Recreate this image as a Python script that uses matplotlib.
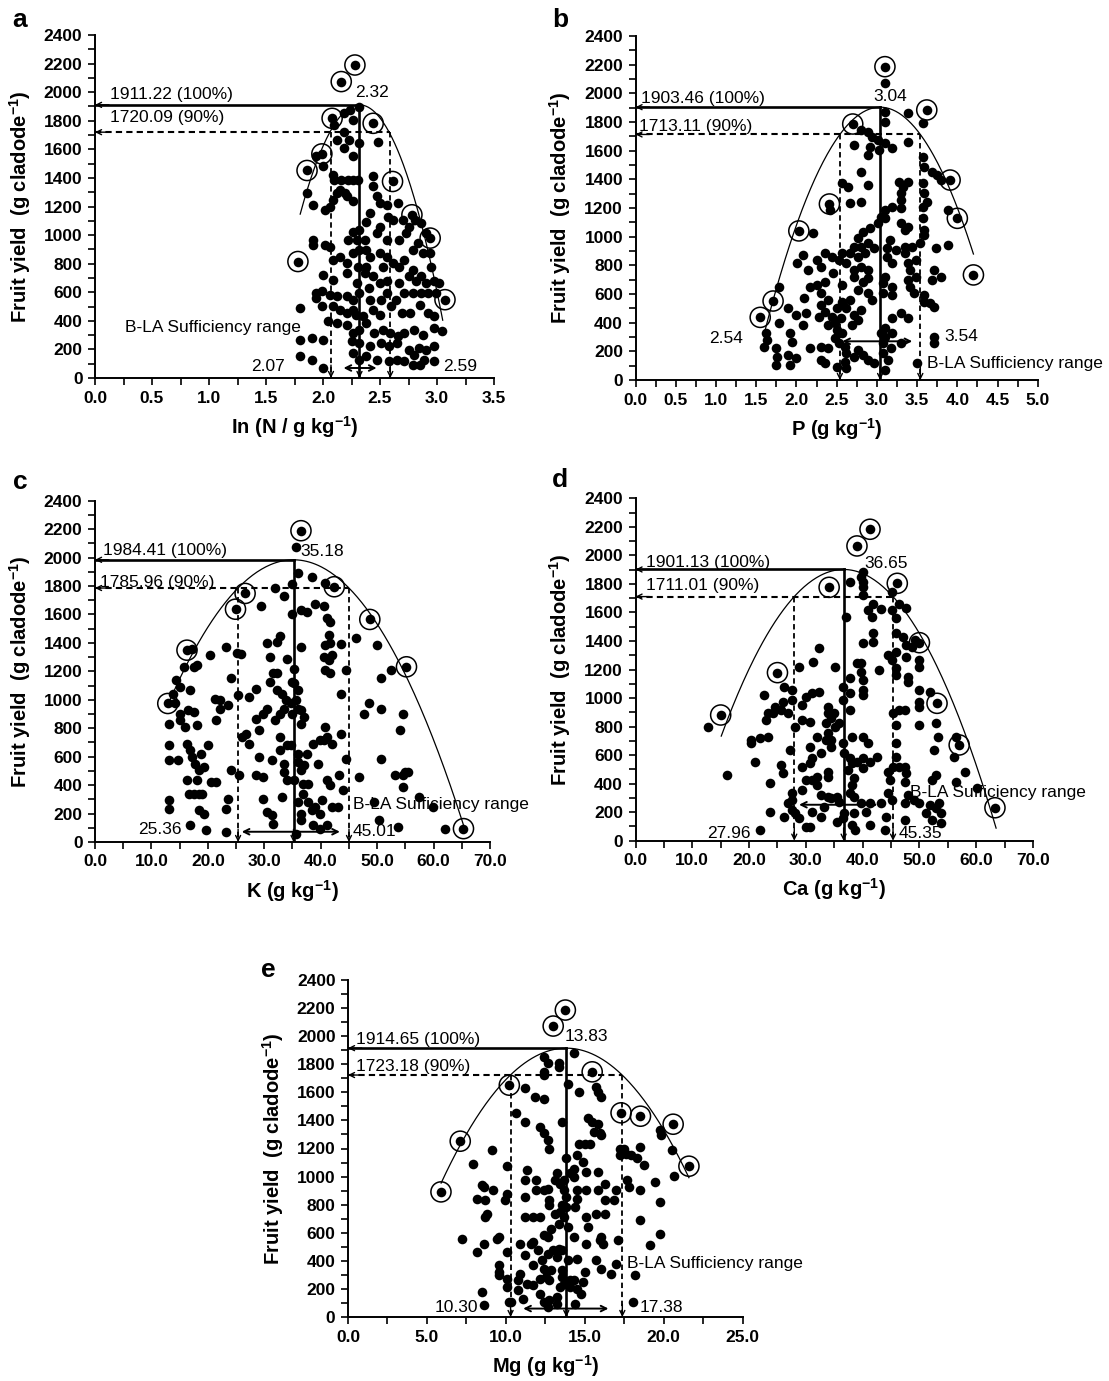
import matplotlib
matplotlib.use('Agg')
import matplotlib.pyplot as plt
import numpy as np
from matplotlib.ticker import MultipleLocator, FormatStrFormatter

plt.rcParams['font.family'] = ['Liberation Sans', 'DejaVu Sans']
plt.rcParams['mathtext.fontset'] = 'custom'
plt.rcParams['mathtext.rm'] = 'Liberation Sans'
plt.rcParams['mathtext.bf'] = 'Liberation Sans:bold'

# ---- datos: puntos (x, rendimiento) ----
n_pts = [(2.24,1876),(2.32,1899),(2.18,1857),(2.26,1806),(2.10,1771),(2.18,1724),(2.12,1666),(2.23,1666),(2.18,1608),(2.32,1643),(2.26,1550),(2.48,1654),
         (2.00,1480),(1.94,1550),(1.86,1293),(1.91,1212),(2.02,1177),(2.06,1200),(2.09,1421),(2.10,1387),(2.16,1387),(2.22,1387),(2.26,1387),(2.31,1387),(2.15,1317),(2.19,1293),(2.21,1270),(2.26,1235),(2.09,1247),(2.12,1293),
         (2.44,1410),(2.44,1340),(2.47,1270),(2.56,1212),(2.50,1223),(2.66,1223),(2.41,1153),(2.57,1130),(2.38,1095),(2.50,1060),(2.61,1107),(2.70,1107),(2.75,1060),(2.81,1107),(2.86,1083),(2.90,1013),
         (2.26,1025),(2.32,1037),(2.22,967),(2.30,967),(2.37,967),(2.47,1013),(2.56,967),(2.67,967),(2.73,1013),(2.83,943),(2.79,897),(2.88,874),(2.94,874),
         (1.91,967),(1.91,932),(2.02,932),(2.06,920),(2.15,850),(2.09,827),(2.21,804),(2.26,874),(2.32,897),(2.38,897),(2.41,850),(2.50,874),(2.56,850),(2.31,780),(2.38,780),(2.44,711),(2.37,734),(2.53,780),(2.61,804),(2.67,780),(2.71,827),(2.79,757),(2.86,711),(2.95,780),(2.97,676),
         (2.00,722),(2.09,687),(2.21,734),(2.30,664),(2.40,629),(2.50,664),(2.56,676),(2.67,664),(2.75,711),(2.82,676),(2.90,664),(3.02,664),
         (1.94,594),(1.99,606),(2.06,582),(2.12,571),(2.21,571),(2.26,548),(2.32,594),(2.41,548),(2.51,548),(2.56,594),(2.64,548),(2.71,594),(2.79,594),(2.86,594),(2.92,594),(2.99,594),
         (1.80,489),(1.94,559),(1.99,501),(2.09,501),(2.15,478),(2.21,454),(2.26,478),(2.29,443),(2.35,431),(2.44,478),(2.50,443),(2.60,501),(2.69,454),(2.76,454),(2.85,513),(2.92,454),(2.97,431),
         (2.04,396),(2.12,384),(2.21,373),(2.26,315),(2.32,338),(2.38,384),(2.45,315),(2.53,338),(2.59,315),(2.66,291),(2.71,315),(2.80,338),(2.88,303),(2.97,350),(3.04,326),
         (1.80,268),(1.90,280),(2.00,268),(2.25,256),(2.32,245),(2.41,221),(2.51,245),(2.58,221),(2.65,245),(2.75,198),(2.84,210),(2.90,198),(2.97,221),
         (1.80,151),(1.90,128),(2.00,70),(2.26,175),(2.32,128),(2.38,151),(2.47,128),(2.58,117),(2.65,128),(2.71,117),(2.80,163),(2.85,93),(2.89,128),(2.79,93),(2.97,117)]
n_circ = [(2.28,2190),(2.16,2074),(2.08,1817),(2.44,1782),(1.99,1568),(1.86,1452),(2.61,1375),(2.78,1142),(2.94,979),(3.07,548),(1.78,815)]

p_pts = [(3.10,2070),(3.10,1872),(3.39,1860),(3.57,1791),(3.10,1802),(2.80,1744),(2.89,1733),(2.94,1698),(3.01,1674),(3.10,1651),(3.03,1605),(2.71,1640),(2.92,1628),(3.19,1616),(3.39,1663),(2.89,1570),(3.57,1558),(3.59,1488),(3.68,1453),(3.75,1430),(3.80,1395),(2.80,1453),(2.57,1372),(2.64,1349),(2.89,1360),(3.28,1384),(3.32,1349),(3.39,1384),(3.57,1372),(3.59,1302),(3.30,1302),(3.30,1256),(3.19,1209),(3.30,1198),(3.57,1209),(3.62,1244),(2.67,1233),(2.80,1244),(2.42,1186),(3.10,1186),(3.05,1140),(3.01,1093),(3.10,1128),(3.57,1128),(3.59,1047),(3.59,1012),(3.30,1093),(3.35,1047),(3.39,1070),(3.89,1186),
         (2.21,1023),(3.16,977),(2.92,1058),(2.83,1035),(2.76,988),(2.71,930),(2.80,930),(2.89,953),(2.96,919),(2.67,884),(2.76,860),(2.85,884),(2.62,814),(2.71,767),(2.80,791),(2.89,767),(2.53,837),(2.57,884),(2.44,860),(2.35,884),(2.26,837),(2.08,872),(2.01,814),(2.15,767),(2.30,791),(2.46,744),
         (3.12,919),(3.24,907),(3.35,884),(3.35,930),(3.44,930),(3.53,953),(3.12,860),(3.19,814),(3.39,814),(3.48,837),(3.41,767),(3.48,721),(3.73,919),(3.89,942),(3.68,698),(3.80,721),(3.71,767),
         (3.39,698),(3.10,721),(3.07,674),(3.19,651),(3.07,605),(3.19,593),(3.41,651),(3.46,605),(3.59,593),(3.66,535),(3.71,512),(3.59,547),
         (2.71,721),(2.83,686),(2.89,709),(2.57,663),(2.76,628),(2.89,605),(2.94,558),(2.67,558),(2.57,547),(2.51,500),(2.62,500),(2.71,453),(2.80,488),(2.76,419),(2.69,384),(2.35,686),(2.26,663),(2.17,651),(2.30,605),(2.39,558),(2.30,523),(2.35,477),(2.28,442),(2.44,442),(2.48,395),(2.55,430),(2.39,384),(2.51,349),(2.57,326),(2.48,291),
         (1.78,651),(1.90,500),(2.10,570),(2.12,465),(1.99,453),(2.08,384),(1.78,395),(1.92,326),(1.94,267),(1.62,326),(1.64,279),(1.60,233),(1.74,221),(1.76,163),(1.90,174),(1.99,151),(1.92,105),(1.74,105),(2.17,221),(2.30,140),(2.35,116),(2.30,233),(2.39,221),
         (2.53,256),(2.60,233),(2.62,186),(2.71,163),(2.76,209),(2.83,174),(2.89,140),(2.96,116),(2.60,128),(2.51,93),(2.62,81),(3.07,186),(3.10,70),(3.07,256),(3.10,302),(3.19,326),(3.30,256),(3.19,430),(3.30,465),(3.39,430),
         (3.71,302),(3.71,256),(3.50,116),(3.10,360),(3.05,326),(3.17,221),(3.14,140)]
p_circ = [(3.10,2186),(3.62,1884),(2.70,1786),(2.41,1228),(2.03,1040),(1.71,551),(1.55,437),(3.91,1395),(4.00,1128),(4.20,733)]

k_pts = [(35.6,2072),(35.9,1889),(38.4,1860),(40.8,1818),(34.9,1814),(31.9,1783),(33.5,1729),(29.5,1661),(39.0,1673),(40.5,1659),(36.5,1630),(37.5,1619),(35.0,1602),(41.1,1572),(41.7,1548),(41.4,1454),(41.7,1401),(43.6,1391),(40.8,1384),(36.5,1368),(32.2,1408),(30.4,1396),(32.8,1447),(23.3,1368),(25.2,1326),(25.8,1321),(20.3,1314),(17.2,1354),(17.5,1232),(15.8,1232),(18.1,1243),(40.5,1302),(41.4,1279),(42.0,1314),(40.8,1208),(41.7,1185),(44.5,1208),(50.0,1384),(46.3,1431),(52.5,1208),(50.6,1150),(43.6,1044),
         (31.0,1302),(31.6,1185),(32.2,1185),(34.1,1290),(35.3,1220),(35.0,1126),(31.0,1126),(32.2,1067),(33.2,1044),(33.8,997),(34.7,974),(35.9,938),(33.5,938),(35.0,903),(32.8,903),(31.9,856),(30.4,938),(28.5,1079),(27.3,1021),(25.4,1032),(24.1,1150),(23.6,962),(22.2,1002),(21.2,1009),(22.1,938),(21.5,856),
         (16.9,1067),(15.0,1091),(14.4,1138),(13.8,1044),(14.1,974),(15.0,903),(13.2,833),(15.0,856),(15.9,809),(16.5,927),(17.5,915),(18.1,821),(13.2,680),(13.2,575),(14.7,575),(16.3,692),(16.9,645),(17.2,598),(16.3,434),(16.6,340),(17.5,340),(18.1,434),(18.4,504),(17.8,551),(18.7,621),(20.0,680),(19.3,528),(18.4,340),(19.0,340),(18.4,223),(19.3,199),(19.6,82),(16.9,117),(13.2,293),(13.2,234),
         (20.5,422),(21.5,422),(23.6,305),(23.3,234),(23.3,70),(24.1,504),(25.5,469),(26.1,739),(27.3,692),(26.7,762),(28.5,868),(29.7,903),(29.1,786),(28.5,469),(29.7,457),(29.7,305),(30.4,211),(31.3,188),(31.6,129),(29.1,598),(31.3,575),(32.8,645),(34.1,680),(32.8,739),(34.7,680),(33.5,551),(33.5,493),(34.1,434),(33.2,317),
         (35.3,434),(35.9,621),(35.9,563),(36.5,504),(37.1,540),(37.5,621),(35.9,282),(36.5,199),(36.5,152),(36.8,411),(37.7,411),(36.8,340),(37.7,282),(38.4,223),(39.0,246),(39.9,199),(40.2,293),(41.1,434),(41.7,399),(42.0,246),(43.0,246),(43.3,469),(43.9,363),(44.5,586),(43.6,762),(40.8,809),(41.1,739),(38.7,692),(39.6,551),(39.9,715),(40.5,715),(42.0,692),(38.7,117),(39.9,94),(41.1,117),(35.6,59),(37.1,880),(36.5,927),(35.6,997),(35.9,1067),(35.3,1115),(36.5,833),
         (46.7,457),(47.6,903),(48.5,974),(50.6,938),(50.6,586),(50.3,152),(49.4,282),(53.1,469),(54.0,786),(54.6,903),(54.6,469),(54.9,493),(55.5,493),(54.6,387),(53.7,106),(57.4,317),(59.9,246),(62.0,94)]
k_circ = [(36.5,2189),(24.9,1637),(26.6,1748),(16.3,1349),(12.9,974),(42.4,1795),(48.7,1565),(55.2,1232),(65.3,94)]

ca_pts = [(40.0,1886),(39.7,1851),(40.0,1816),(40.0,1781),(37.8,1816),(40.0,1722),(45.1,1746),(41.9,1659),(43.2,1622),(41.0,1617),(45.1,1617),(46.4,1659),(47.7,1629),(41.6,1570),(37.1,1570),(45.8,1559),(41.9,1454),(41.9,1395),(40.0,1383),(45.8,1454),(47.1,1430),(47.7,1372),(49.3,1407),(48.7,1360),(45.8,1325),(44.5,1302),(45.1,1267),(47.7,1290),(50.0,1267),(50.0,1220),(45.8,1208),(45.8,1161),(42.9,1197),(39.7,1243),(39.7,1185),(40.0,1126),(40.0,1056),(40.0,1021),(39.0,1243),(48.0,1150),(48.0,1115),(50.0,1056),(51.9,1044),(50.0,975),(50.0,939),(46.4,916),(47.4,916),(45.4,893),(45.8,811),(50.0,811),(52.9,823),(53.2,729),(52.5,636),(56.4,729),(56.1,589),(58.0,484),(56.4,414),(60.2,367),(52.9,460),(52.2,425),
          (45.8,683),(45.8,589),(46.4,519),(47.4,519),(47.7,472),(47.4,414),(47.4,262),(48.0,320),(47.4,145),(49.0,285),(50.0,262),(51.2,192),(52.2,145),(52.9,227),(53.5,262),(53.8,192),(53.8,122),(51.9,250),
          (44.5,484),(44.5,332),(45.1,285),(44.2,168),(43.9,75),(43.2,262),(41.3,262),(41.3,110),(40.6,203),(39.7,262),(38.4,308),(37.8,332),(38.1,390),(38.4,437),(37.4,495),(38.1,542),(39.0,554),(40.0,507),(40.0,577),(41.3,554),(42.6,589),(40.9,683),(40.0,729),(38.1,729),(37.8,577),(38.4,192),(38.1,110),(38.7,75),(36.5,157),(35.5,133),(36.8,192),(35.8,273),(35.5,308),(34.5,297),(33.2,238),(32.6,168),(31.0,203),(30.7,98),(30.1,98),(28.8,157),(27.5,215),(26.2,168),(27.5,285),(27.5,332),(26.8,262),(29.4,355),(31.0,425),(32.0,390),(33.9,484),(33.9,449),
          (30.7,542),(31.0,577),(32.6,612),(30.7,659),(32.0,729),(33.6,706),(33.9,753),(34.5,659),(34.5,706),(36.5,683),(36.8,612),(35.8,823),(35.2,800),(34.5,858),(33.9,893),(33.6,823),(35.0,893),(33.9,939),(36.5,986),(37.8,916),(36.5,1080),(37.8,1138),(37.8,1033),(35.2,1220),(32.3,1044),(31.0,1033),(30.1,1009),(31.3,1255),(32.3,1348),(28.8,1220),(29.4,951),(29.4,846),(30.7,835),(28.1,799),(26.8,893),(25.6,916),(24.6,939),(25.9,975),(26.2,1080),(27.5,1056),(27.5,986),
          (22.7,1021),(23.4,893),(24.3,893),(23.0,846),(23.4,729),(22.0,717),(20.4,706),(20.4,683),(21.1,554),(25.6,530),(25.9,472),(23.6,402),(23.6,203),(22.0,75),(16.2,460),(12.8,799),(27.2,636),(29.4,519),(30.1,425),(32.0,449),(32.6,320),(28.1,192),(33.9,308),(45.4,519),(44.8,425)]
ca_circ = [(41.3,2183),(39.0,2066),(46.1,1804),(34.1,1776),(25.0,1178),(15.0,881),(50.0,1388),(53.1,963),(57.0,671),(63.3,231)]

mg_pts = [(14.29,1882),(12.41,1853),(12.64,1806),(13.35,1806),(12.41,1746),(12.41,1722),(13.35,1777),(11.23,1632),(11.82,1568),(12.41,1549),(13.94,1658),(14.64,1604),(15.71,1639),(15.82,1604),(16.06,1568),(10.64,1454),(11.23,1390),(12.17,1354),(12.41,1307),(12.64,1259),(12.76,1200),(13.58,1390),(15.23,1418),(15.47,1390),(15.82,1378),(15.94,1307),(15.59,1319),(15.35,1235),(16.06,1295),(15.00,1235),(14.64,1235),(14.52,1152),(13.82,1129),(14.88,1105),(15.11,1034),(15.82,1034),
          (17.23,1200),(17.23,1152),(17.47,1200),(17.59,1164),(17.94,1152),(18.53,1212),(18.29,1129),(18.76,1081),(19.74,1331),(19.86,1295),(20.54,1188),(20.65,1003),(17.70,974),(17.82,927),(18.53,903),(19.48,962),(17.00,903),(16.29,950),(15.82,903),(15.11,903),(16.29,832),(16.88,832),(16.29,737),(15.70,737),(15.11,713),(15.23,642),(18.53,689),(19.74,820),(19.74,594),(19.11,511),(17.11,546),(16.06,570),(15.94,546),(16.18,523),(15.11,523),(14.29,570),(15.70,404),(16.06,345),(16.64,309),(17.00,380),(18.17,297),(18.05,107),
          (14.52,416),(15.00,321),(14.88,250),(14.76,166),(14.52,202),(14.41,95),(14.29,261),(13.94,404),(14.05,261),(14.05,214),(13.58,285),(13.46,214),(13.23,143),(13.23,95),(12.76,119),(12.41,107),(12.64,71),(12.17,166),(11.70,226),(11.35,238),(11.11,131),(10.76,190),(10.76,261),(10.88,309),(10.35,107),(10.05,214),(10.05,273),(9.58,321),(9.58,368),(9.58,297),(10.05,463),(9.58,570),(10.88,523),(11.23,440),(11.70,368),(11.58,523),(12.05,475),(12.29,404),(12.41,345),(12.52,285),(12.88,333),(12.64,451),(13.00,475),(13.35,487),(13.58,475),(13.23,428),(13.58,333),(13.70,238),(12.76,261),(12.17,273),
          (12.64,570),(12.41,582),(11.70,535),(12.88,630),(13.35,665),(13.11,737),(13.70,713),(13.46,749),(13.82,784),(13.94,642),(13.58,796),(12.76,796),(12.76,832),(12.17,713),(11.70,713),(11.23,713),(11.23,855),(11.23,974),(11.35,1045),(11.94,974),(11.94,903),(12.41,903),(12.64,915),(13.11,974),(13.23,1022),(13.46,950),(13.70,974),(13.70,903),(14.52,903),(14.52,843),(14.41,784),(14.29,998),(14.29,1057),(14.05,1022),(13.82,855),
          (10.05,1074),(10.05,879),(9.93,832),(9.17,903),(8.71,832),(8.81,737),(8.71,713),(8.17,843),(7.93,1093),(9.11,1188),(8.52,939),(8.64,927),(7.23,558),(8.17,463),(8.64,523),(8.52,178),(8.64,83),(9.46,558),(10.17,107)]
mg_circ = [(13.77,2186),(13.00,2072),(15.47,1746),(10.22,1651),(7.11,1252),(5.89,891),(17.30,1454),(18.53,1430),(20.60,1373),(21.60,1074)]

# maximo (x, y), 90 % y rango de suficiencia B-LA
n_opt = (2.32, 1911.22, 1720.09, 2.07, 2.59)
p_opt = (3.04, 1903.46, 1713.11, 2.54, 3.54)
k_opt = (35.18, 1984.41, 1785.96, 25.36, 45.01)
ca_opt = (36.65, 1901.13, 1711.01, 27.96, 45.35)
mg_opt = (13.83, 1914.65, 1723.18, 10.30, 17.38)

sup = r'$^{\mathbf{-1}}$'
xlabels = ['In (N / g kg' + sup + ')', 'P (g kg' + sup + ')', 'K (g kg' + sup + ')',
           'Ca (g kg' + sup + ')', 'Mg (g kg' + sup + ')']
ylabel = 'Fruit yield  (g cladode' + sup + ')'
letters = ['a', 'b', 'c', 'd', 'e']

# ---- layout (posiciones en pixeles / unidades de datos) ----
W, H = 1109, 1381
boxes = [(95, 494, 35, 378), (635.5, 1037.8, 36, 380), (95, 490, 500.7, 842),
         (635.5, 1033, 498.3, 840.7), (348, 742.6, 980, 1317)]
xaxis = [(3.5, 0.5), (5.0, 0.5), (70, 10), (70, 10), (25, 5)]
curve_x = [(1.8, 3.05), (1.6, 4.2), (12.8, 65.6), (15.1, 63.5), (5.9, 21.6)]
letter_pos = [(20, 20), (560, 20), (20, 482), (560, 480), (268, 970)]
# t100, t90, tpk, tlo (right), thi, tbla, bottom arrow
txt = [
    dict(t100=(0.13, 1985), t90=(0.13, 1824), tpk=(2.28, 1997), tlo=(1.665, 82), thi=(3.05, 82), tbla=(0.26, 350), arr=(2.18, 2.47, 70)),
    dict(t100=(0.07, 1965), t90=(0.04, 1772), tpk=(2.96, 1977), tlo=(1.33, 291), thi=(3.84, 302), tbla=(3.62, 116), arr=(2.57, 3.44, 270)),
    dict(t100=(1.4, 2053), t90=(0.9, 1825), tpk=(36.4, 2041), tlo=(15.3, 87), thi=(45.6, 77), tbla=(45.7, 263), arr=(26.0, 43.4, 72)),
    dict(t100=(1.9, 1949), t90=(1.9, 1792), tpk=(40.3, 1944), tlo=(20.3, 51), thi=(46.4, 47), tbla=(48.4, 337), arr=(28.8, 42.6, 252)),
    dict(t100=(0.52, 1977), t90=(0.52, 1787), tpk=(13.70, 2000), tlo=(8.22, 71), thi=(18.48, 71), tbla=(17.70, 380), arr=(11.1, 16.5, 60)),
]

pts_all = [n_pts, p_pts, k_pts, ca_pts, mg_pts]
circ_all = [n_circ, p_circ, k_circ, ca_circ, mg_circ]
opt_all = [n_opt, p_opt, k_opt, ca_opt, mg_opt]

fig = plt.figure(figsize=(W / 100, H / 100), dpi=100)

head = dict(arrowstyle='->', lw=1.0, color='black', shrinkA=0, shrinkB=0, mutation_scale=9)

for i in range(5):
    x0, x1, y0, y1 = boxes[i]
    ax = fig.add_axes([x0 / W, 1 - y1 / H, (x1 - x0) / W, (y1 - y0) / H])
    xmax, xstep = xaxis[i]
    xp, yp, y90, lo, hi = opt_all[i]
    pts = np.array(pts_all[i])
    circ = np.array(circ_all[i])
    t = txt[i]

    ax.scatter(pts[:, 0], pts[:, 1], s=48, c='black', linewidths=0, zorder=3)
    ax.scatter(circ[:, 0], circ[:, 1], s=48, c='black', linewidths=0, zorder=3)
    ax.scatter(circ[:, 0], circ[:, 1], s=210, facecolors='none', edgecolors='black', linewidths=1.1, zorder=3)

    # linea limite (cuadratica por el maximo y los puntos de 90 %)
    half = (hi - lo) / 2
    xx = np.linspace(curve_x[i][0], curve_x[i][1], 200)
    ax.plot(xx, yp - (yp - y90) * ((xx - xp) / half) ** 2, color='black', lw=0.9, zorder=2)

    ax.plot([0, xp], [yp, yp], color='black', lw=1.9, zorder=2)
    ax.plot([xp, xp], [yp, 0], color='black', lw=1.9, zorder=2)
    ax.plot([0, hi], [y90, y90], color='black', lw=1.5, ls=(0, (3, 2)), zorder=2)
    ax.plot([lo, lo], [y90, 0], color='black', lw=1.3, ls=(0, (3, 2)), zorder=2)
    ax.plot([hi, hi], [y90, 0], color='black', lw=1.3, ls=(0, (3, 2)), zorder=2)
    for yy in (yp, y90):
        ax.annotate('', xy=(0, yy), xytext=(0.035 * xmax, yy), arrowprops=head)
    for xv in (lo, xp, hi):
        ax.annotate('', xy=(xv, 0), xytext=(xv, 90), arrowprops=head)
    a0, a1, ay = t['arr']
    ax.annotate('', xy=(a0, ay), xytext=(a1, ay),
                arrowprops=dict(arrowstyle='<->', lw=1.4, color='black', shrinkA=0, shrinkB=0, mutation_scale=10))

    fs = 12.5
    ax.text(*t['t100'], f'{yp:.2f} (100%)', fontsize=fs, va='center', ha='left', zorder=1)
    ax.text(*t['t90'], f'{y90:.2f} (90%)', fontsize=fs, va='center', ha='left', zorder=1)
    ax.text(*t['tpk'], f'{xp:.2f}', fontsize=fs, va='center', ha='left', zorder=1)
    ax.text(*t['tlo'], f'{lo:.2f}', fontsize=fs, va='center', ha='right', zorder=1)
    ax.text(*t['thi'], f'{hi:.2f}', fontsize=fs, va='center', ha='left', zorder=1)
    ax.text(*t['tbla'], 'B-LA Sufficiency range', fontsize=fs, va='center', ha='left', zorder=1)

    ax.set_xlim(0, xmax)
    ax.set_ylim(0, 2400)
    ax.spines['top'].set_visible(False)
    ax.spines['right'].set_visible(False)
    for s in ('left', 'bottom'):
        ax.spines[s].set_linewidth(1.4)
    ax.xaxis.set_major_locator(MultipleLocator(xstep))
    ax.xaxis.set_minor_locator(MultipleLocator(xstep / 2))
    ax.xaxis.set_major_formatter(FormatStrFormatter('%.1f'))
    ax.yaxis.set_major_locator(MultipleLocator(200))
    ax.yaxis.set_minor_locator(MultipleLocator(100))
    ax.tick_params(which='both', direction='out', length=5, width=1.2, labelsize=12.5, pad=4)
    for lab in ax.get_xticklabels() + ax.get_yticklabels():
        lab.set_fontweight('bold')
    ax.set_xlabel(xlabels[i], fontsize=14.5, fontweight='bold', labelpad=6)
    ax.set_ylabel(ylabel, fontsize=14.5, fontweight='bold', labelpad=8)

    lx, ly = letter_pos[i]
    fig.text(lx / W, 1 - ly / H, letters[i], fontsize=19, fontweight='bold', ha='center', va='center')

fig.savefig('out.png', dpi=100)
